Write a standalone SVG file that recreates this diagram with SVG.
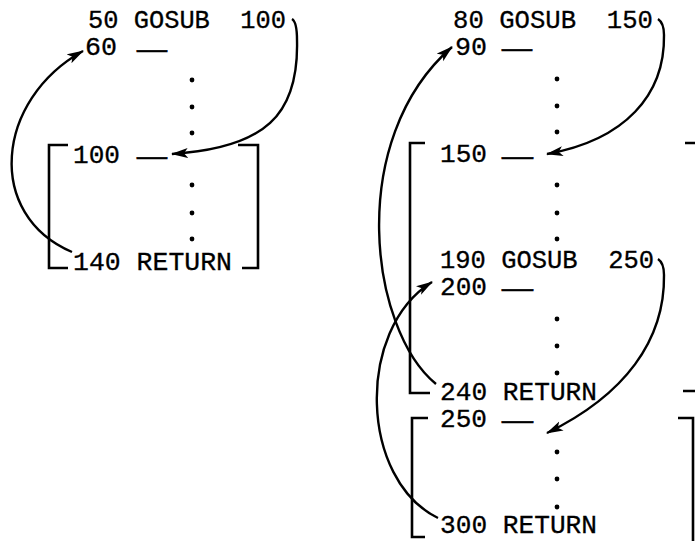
<svg xmlns="http://www.w3.org/2000/svg" width="695" height="541" viewBox="0 0 695 541" xml:space="preserve">
<style>
text{font-family:"Liberation Mono","Courier New",monospace;font-size:25px;fill:#000;stroke:#000;stroke-width:0.3;white-space:pre}
.b{fill:none;stroke:#000;stroke-width:2.6}
.c{fill:none;stroke:#000;stroke-width:2.4}
.d{fill:#000}
</style>
<defs>
<marker id="ah" markerUnits="userSpaceOnUse" markerWidth="18" markerHeight="12" refX="16" refY="5" orient="auto">
<path d="M0,0 L17,5 L0,10 L4,5 z" fill="#000"/>
</marker>
</defs>
<rect width="695" height="541" fill="#fff"/>
<g id="l50"><text x="88" y="28" textLength="198" lengthAdjust="spacingAndGlyphs">50 GOSUB  100</text></g>
<g id="l60"><text x="85" y="55" textLength="32" lengthAdjust="spacingAndGlyphs">60</text><text x="137" y="58" textLength="30" lengthAdjust="spacingAndGlyphs">—</text></g>
<g id="ldots1"><circle class="d" cx="192" cy="80" r="2.4"/><circle class="d" cx="192" cy="107" r="2.4"/><circle class="d" cx="192" cy="133" r="2.4"/></g>
<g id="sub100">
<path class="b" d="M68,145 H49 V268 H68"/>
<path class="b" d="M238,145 H258 V268 H242"/>
<g id="l100"><text x="73" y="163" textLength="47" lengthAdjust="spacingAndGlyphs">100</text><text x="137" y="165" textLength="30" lengthAdjust="spacingAndGlyphs">—</text></g>
<g id="ldots2"><circle class="d" cx="192" cy="185" r="2.4"/><circle class="d" cx="192" cy="213" r="2.4"/><circle class="d" cx="192" cy="239" r="2.4"/></g>
<g id="l140"><text x="73" y="270" textLength="159" lengthAdjust="spacingAndGlyphs">140 RETURN</text></g>
</g>
<g id="r80"><text x="453" y="28" textLength="200" lengthAdjust="spacingAndGlyphs">80 GOSUB  150</text></g>
<g id="r90"><text x="455" y="55" textLength="32" lengthAdjust="spacingAndGlyphs">90</text><text x="502" y="57" textLength="30" lengthAdjust="spacingAndGlyphs">—</text></g>
<g id="rdots1"><circle class="d" cx="557" cy="79" r="2.4"/><circle class="d" cx="557" cy="106" r="2.4"/><circle class="d" cx="557" cy="132" r="2.4"/></g>
<g id="sub150">
<path class="b" d="M425,143 H410 V393 H430"/>
<path class="b" d="M685,143 H699 V391 H683"/>
<g id="r150"><text x="440" y="162" textLength="47" lengthAdjust="spacingAndGlyphs">150</text><text x="502" y="165" textLength="31" lengthAdjust="spacingAndGlyphs">—</text></g>
<g id="rdots2"><circle class="d" cx="557" cy="185" r="2.4"/><circle class="d" cx="557" cy="213" r="2.4"/><circle class="d" cx="557" cy="239" r="2.4"/></g>
<g id="r190"><text x="440" y="268" textLength="214" lengthAdjust="spacingAndGlyphs">190 GOSUB  250</text></g>
<g id="r200"><text x="440" y="295" textLength="47" lengthAdjust="spacingAndGlyphs">200</text><text x="502" y="297" textLength="31" lengthAdjust="spacingAndGlyphs">—</text></g>
<g id="rdots3"><circle class="d" cx="557" cy="319" r="2.4"/><circle class="d" cx="557" cy="346" r="2.4"/><circle class="d" cx="557" cy="373" r="2.4"/></g>
<g id="r240"><text x="440" y="400" textLength="157" lengthAdjust="spacingAndGlyphs">240 RETURN</text></g>
</g>
<g id="sub250">
<path class="b" d="M428,418 H412 V537 H425"/>
<path class="b" d="M678,418 H693 V545"/>
<g id="r250"><text x="440" y="427" textLength="47" lengthAdjust="spacingAndGlyphs">250</text><text x="502" y="429" textLength="31" lengthAdjust="spacingAndGlyphs">—</text></g>
<g id="rdots4"><circle class="d" cx="557" cy="452" r="2.4"/><circle class="d" cx="557" cy="479" r="2.4"/><circle class="d" cx="557" cy="507" r="2.4"/></g>
<g id="r300"><text x="440" y="533" textLength="157" lengthAdjust="spacingAndGlyphs">300 RETURN</text></g>
</g>
<g id="connectors">
<path class="c" d="M292,19 Q297,22 297,40 C299,115 265,148 172,154" marker-end="url(#ah)"/>
<path class="c" d="M72,252 C-15,215 -5,100 83,51" marker-end="url(#ah)"/>
<path class="c" d="M658,19 Q664,23 664,35 C665,95 625,140 547,154" marker-end="url(#ah)"/>
<path class="c" d="M658,259 Q664,263 664,275 C665,340 625,395 547,433" marker-end="url(#ah)"/>
<path class="c" d="M436,384 C370,330 345,140 452,47" marker-end="url(#ah)"/>
<path class="c" d="M438,518 C360,480 355,330 432,282" marker-end="url(#ah)"/>
</g>
</svg>
